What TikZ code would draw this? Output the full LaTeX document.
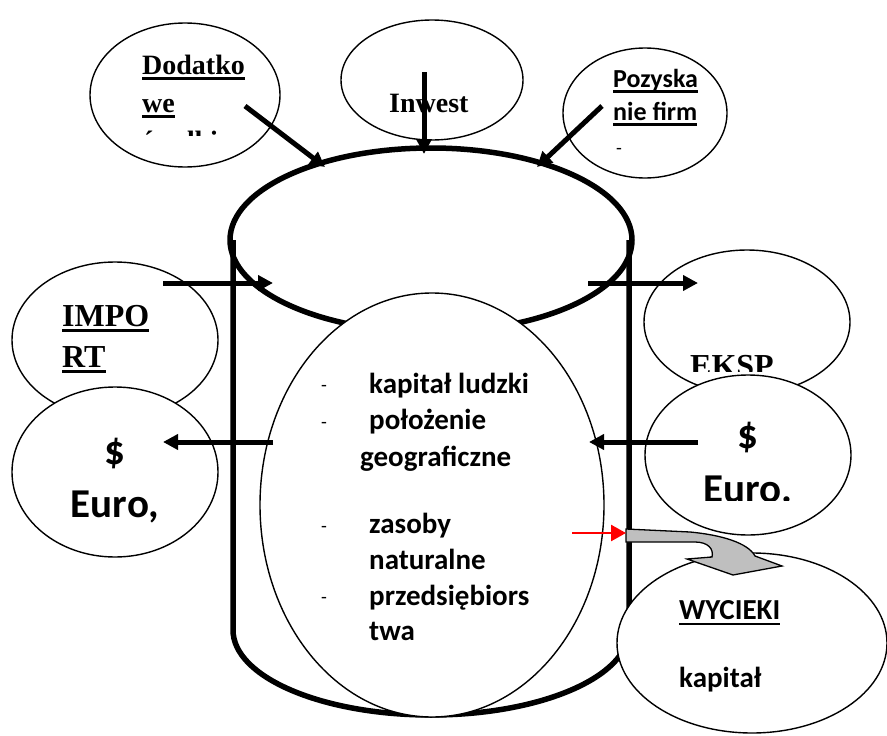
\documentclass[tikz,border=0pt]{standalone}
\usepackage{fontspec}
\setmainfont{Liberation Serif}
\newfontfamily\calib{Carlito}
\usetikzlibrary{shapes.geometric,arrows.meta}

% text with a heavy underline: #1 text, #2 depth of the bar's lower edge, #3 bar thickness
\newcommand\ulbar[3]{\setbox0\hbox{#1}\rlap{\rule[-#2]{\wd0}{#3}}\box0}

\tikzset{
  bubble/.style={ellipse, draw, line width=1.4pt, fill=white, inner sep=0pt},
  tank/.style={line width=5.5pt, line join=round},
  flow/.style={line width=5pt, -{Triangle[length=15pt,width=15pt]}},
  leak/.style={red, line width=2.5pt, -{Triangle[length=15pt,width=16pt]}},
  txt/.style={inner sep=0pt, anchor=base west},
  ctxt/.style={inner sep=0pt, anchor=base},
  serifbig/.style={font=\fontsize{28}{28}\selectfont\bfseries},
  serifhuge/.style={font=\fontsize{32}{32}\selectfont\bfseries},
  calbold/.style={font=\calib\fontsize{29}{29}\selectfont\bfseries},
  calbig/.style={font=\calib\fontsize{41}{41}\selectfont\bfseries},
  dashmark/.style={inner sep=0pt, anchor=base, font=\calib\fontsize{19}{19}\selectfont},
}

\begin{document}
\begin{tikzpicture}[x=1pt, y=-1pt]
\useasboundingbox (0,0) rectangle (887,736);
\clip (0,0) rectangle (887,736);

% cylinder body: walls and rounded bottom
\coordinate (wl) at (233,240);
\coordinate (wr) at (629,240);
\draw[tank] (wl) -- (233,630) arc[start angle=180, end angle=0, x radius=198, y radius=85] -- (wr);
% cylinder lid
\node[ellipse, draw, tank, inner sep=0pt, minimum width=402pt, minimum height=184pt] (lid) at (431,240) {};

% inflow bubbles above the lid
\node[bubble, minimum width=190pt, minimum height=144pt] (dod) at (185,95) {};
\node[txt, serifbig] (dodA) at (142,74) {\ulbar{Dodatko}{6pt}{3pt}};
\node[txt, serifbig] (dodB) at (142,112) {\ulbar{we}{6pt}{3pt}};
\begin{scope}
  \clip (100,100) rectangle (280,135);
  \node[txt, serifbig] (dodC) at (142,150) {\ulbar{środki}{6pt}{3pt}};
\end{scope}

\node[bubble, minimum width=182pt, minimum height=120pt] (inw) at (432,80) {};
\node[txt, serifbig] (inwT) at (389,112) {Inwest};

\node[bubble, minimum width=164pt, minimum height=130pt] (poz) at (645,113) {};
\node[txt, font=\calib\fontsize{26}{26}\selectfont\bfseries] (pozA) at (613,87) {\ulbar{Pozyska}{5.5pt}{2.3pt}};
\node[txt, font=\calib\fontsize{26}{26}\selectfont\bfseries] (pozB) at (613,120) {\ulbar{nie firm}{5.5pt}{2.3pt}};
\node[dashmark] (pozC) at (619,154) {-};

% inner core with the list of resources
\node[bubble, minimum width=344pt, minimum height=424pt] (core) at (432,505) {};
\node[dashmark] (d1) at (324,391) {-};
\node[txt, calbold] (l1) at (369,393) {kapitał ludzki};
\node[dashmark] (d2) at (324,428) {-};
\node[txt, calbold] (l2) at (369,429) {położenie};
\node[txt, calbold] (l3) at (360,466) {geograficzne};
\node[dashmark] (d3) at (324,532) {-};
\node[txt, calbold] (l4) at (369,533) {zasoby};
\node[txt, calbold] (l5) at (369,569) {naturalne};
\node[dashmark] (d4) at (324,603) {-};
\node[txt, calbold] (l6) at (369,605) {przedsiębiors};
\node[txt, calbold] (l7) at (369,640) {twa};

% left side: import and money going out
\node[bubble, minimum width=206pt, minimum height=156pt] (imp) at (115,340) {};
\node[txt, serifhuge] (impA) at (62,326) {\ulbar{IMPO}{6pt}{3pt}};
\node[txt, serifhuge] (impB) at (62,367) {\ulbar{RT}{6pt}{3pt}};
\node[bubble, minimum width=206pt, minimum height=170pt] (curL) at (115,472) {};
\node[ctxt, calbig] (curLA) at (115,464) {\$};
\node[ctxt, calbig] (curLB) at (115,517) {Euro,};

% right side: export and money coming in
\node[bubble, minimum width=206pt, minimum height=144pt] (eks) at (747,322) {};
\begin{scope}
  \clip (650,340) rectangle (830,371);
  \node[txt, serifhuge] (eksT) at (690,376) {EKSP};
\end{scope}
\node[bubble, minimum width=206pt, minimum height=160pt] (curR) at (748,455) {};
\node[ctxt, calbig] (curRA) at (748,448) {\$};
\begin{scope}
  \clip (680,440) rectangle (820,500);
  \node[ctxt, calbig] (curRB) at (748,502) {Euro.};
\end{scope}

% leakage bubble
\node[bubble, minimum width=270pt, minimum height=180pt] (wyc) at (752,643) {};
\node[txt, font=\calib\fontsize{29}{29}\selectfont\bfseries] (wycA) at (679,619) {\ulbar{WYCIEKI}{6pt}{2pt}};
\node[txt, calbold] (wycB) at (679,687) {kapitał};

% bent block arrow carrying the leakage
\draw[line width=1.3pt, fill=gray!50!white, line join=miter]
  (626,529) -- (690,532) .. controls (722,535) and (748,543) .. (755,556)
  -- (782,566) -- (733,575) -- (687,559) -- (712,557)
  .. controls (714,549) and (708,542) .. (695,542) -- (626,542) -- cycle;

% flow arrows
\coordinate (f1s) at (245,106); \coordinate (f1e) at (325,167);
\coordinate (f2s) at (424,72);  \coordinate (f2e) at (424,154);
\coordinate (f3s) at (602,106); \coordinate (f3e) at (537,167);
\coordinate (f4s) at (163,283); \coordinate (f4e) at (273,283);
\coordinate (f5s) at (588,283); \coordinate (f5e) at (698,283);
\coordinate (f6s) at (273,442); \coordinate (f6e) at (163,442);
\coordinate (f7s) at (698,442); \coordinate (f7e) at (589,442);
\coordinate (f8s) at (572,533); \coordinate (f8e) at (626,533);
\draw[flow] (f1s) -- (f1e);
\draw[flow] (f2s) -- (f2e);
\draw[flow] (f3s) -- (f3e);
\draw[flow] (f4s) -- (f4e);
\draw[flow] (f5s) -- (f5e);
\draw[flow] (f6s) -- (f6e);
\draw[flow] (f7s) -- (f7e);
\draw[leak] (f8s) -- (f8e);
\end{tikzpicture}
\end{document}
